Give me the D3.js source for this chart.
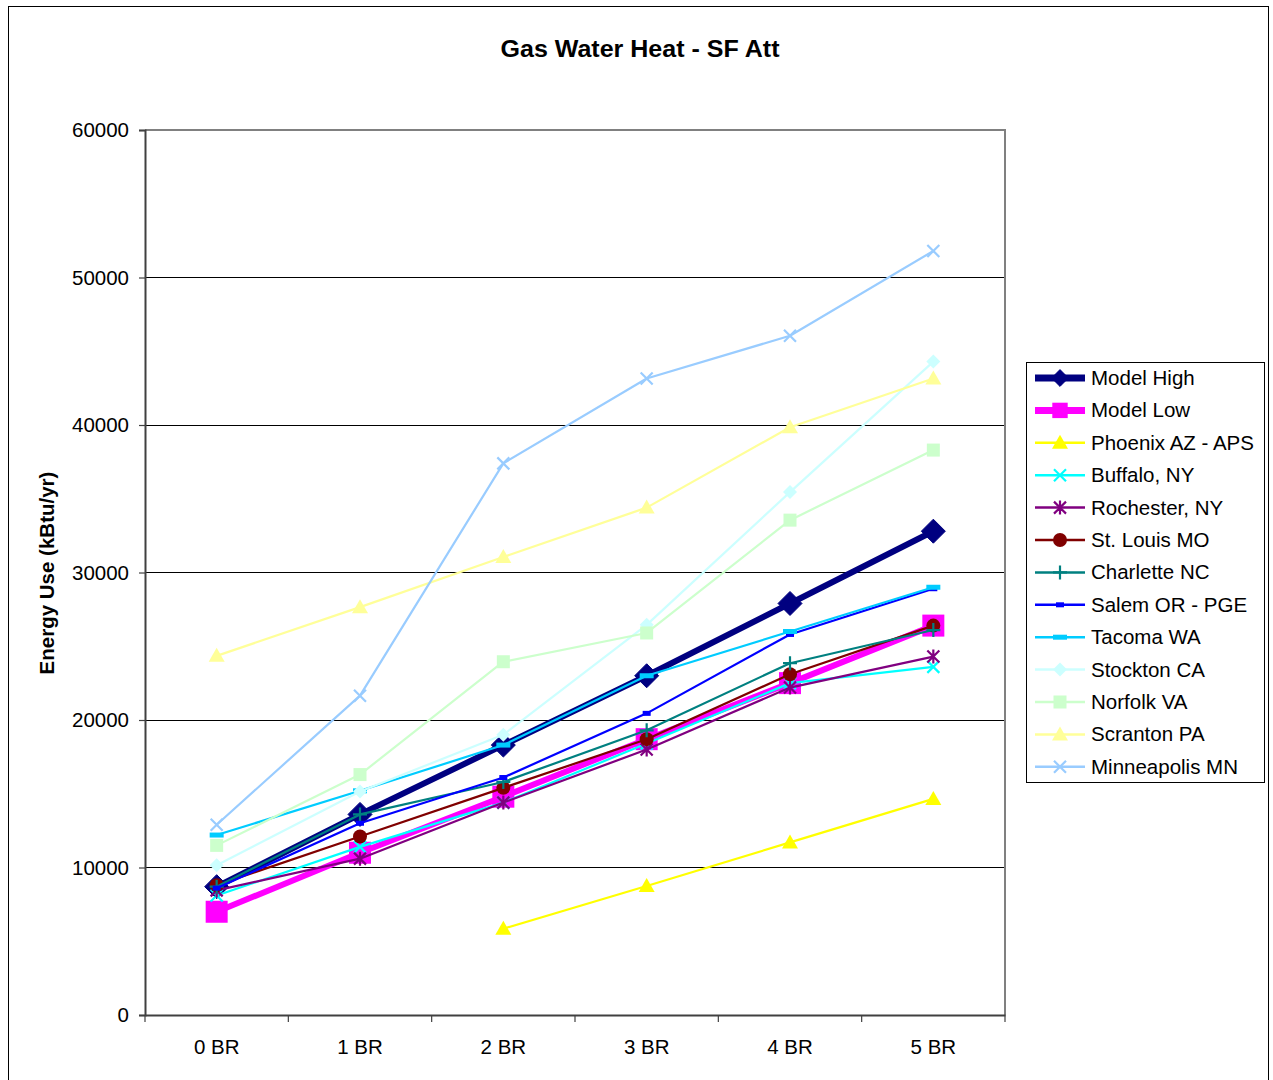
<!DOCTYPE html>
<html><head><meta charset="utf-8">
<script src="https://cdn.jsdelivr.net/npm/d3@7"></script>
<style>
body{margin:0;background:#fff;}
svg{display:block;font-family:Arial,"Liberation Sans",sans-serif;}
</style></head>
<body><svg id="c" width="1273" height="1080"></svg>
<script>
const categories = ["0 BR","1 BR","2 BR","3 BR","4 BR","5 BR"];
const yTicks = [0,10000,20000,30000,40000,50000,60000];
const seriesNames = ["Model High","Model Low","Phoenix AZ - APS","Buffalo, NY","Rochester, NY","St. Louis MO","Charlette NC","Salem OR - PGE","Tacoma WA","Stockton CA","Norfolk VA","Scranton PA","Minneapolis MN"];
const modelHigh   = [8700, 13600, 18300, 23000, 27900, 32800];
const modelLow    = [7000, 11000, 14800, 18700, 22500, 26400];
const phoenix     = [null, null, 5850, 8750, 11700, 14650];
const buffalo     = [8100, 11400, 14400, 18400, 22500, 23600];
const rochester   = [8450, 10600, 14400, 18000, 22200, 24300];
const stLouis     = [8800, 12100, 15400, 18700, 23100, 26400];
const charlette   = [8700, 13600, 15800, 19300, 23850, 26100];
const salem       = [8600, 13000, 16100, 20450, 25800, 28900];
const tacoma      = [12200, 15200, 18300, 23000, 26000, 29000];
const stockton    = [10150, 15150, 19000, 26450, 35450, 44300];
const norfolk     = [11500, 16300, 23950, 25900, 33550, 38300];
const scranton    = [24350, 27650, 31050, 34400, 39850, 43150];
const minneapolis = [12900, 21650, 37400, 43150, 46050, 51800];

const seriesValues = [modelHigh, modelLow, phoenix, buffalo, rochester, stLouis, charlette, salem, tacoma, stockton, norfolk, scranton, minneapolis];
const colors = ["#000080","#FF00FF","#FFFF00","#00FFFF","#800080","#800000","#008080","#0000FF","#00CCFF","#CCFFFF","#CCFFCC","#FFFF99","#99CCFF"];
const widths = [6,6,2.2,2.2,2.2,2.2,2.2,2.2,2.2,2.2,2.2,2.2,2.2];
const markers = ["diamondBig","squareBig","triangle","x","asterisk","circle","plus","dashSmall","dash","diamond","square","triangle","x"];

const svg = d3.select("#c");
const L=145, R=1005, T=130, B=1015;

svg.append("rect").attr("x",8.5).attr("y",6.5).attr("width",1260).attr("height",1090)
  .attr("fill","#fff").attr("stroke","#000").attr("stroke-width",1);

const x = d3.scaleBand().domain(categories).range([L,R]).padding(0);
const y = d3.scaleLinear().domain([0,60000]).range([B,T]);
const cx = c => x(c) + x.bandwidth()/2;

svg.append("g").selectAll("line").data(yTicks.filter(v=>v>0 && v<60000)).join("line")
  .attr("x1",L).attr("x2",R).attr("y1",d=>y(d)).attr("y2",d=>y(d))
  .attr("stroke","#000").attr("stroke-width",1).attr("shape-rendering","crispEdges");
svg.append("path").attr("d",`M${L},${y(60000)}H${R}V${B}`).attr("fill","none")
  .attr("stroke","#808080").attr("stroke-width",2).attr("shape-rendering","crispEdges");

const yAxis = d3.axisLeft(y).tickValues(yTicks).tickSize(6).tickPadding(10).tickFormat(d3.format("d"));
const gy = svg.append("g").attr("transform",`translate(${L},0)`).call(yAxis);
gy.select(".domain").attr("stroke","#404040").attr("stroke-width",2);
gy.selectAll(".tick line").attr("stroke","#404040").attr("stroke-width",1.2);
gy.selectAll("text").attr("font-size",20.5).attr("fill","#000").attr("font-family","Arial, 'Liberation Sans', sans-serif");

const xAxis = d3.axisBottom(x).tickSize(0).tickPadding(24);
const gx = svg.append("g").attr("transform",`translate(0,${B})`).call(xAxis);
gx.select(".domain").attr("stroke","#404040").attr("stroke-width",2);
gx.selectAll("text").attr("font-size",20.5).attr("fill","#000").attr("font-family","Arial, 'Liberation Sans', sans-serif");
const bounds = categories.map(c=>x(c)).concat([R]);
svg.append("g").selectAll("line").data(bounds).join("line")
  .attr("x1",d=>d).attr("x2",d=>d).attr("y1",B).attr("y2",B+7)
  .attr("stroke","#404040").attr("stroke-width",1.2);

svg.append("text").attr("x",640).attr("y",57).attr("text-anchor","middle")
  .attr("font-size",23).attr("font-weight","bold").attr("textLength",279).attr("lengthAdjust","spacingAndGlyphs")
  .text("Gas Water Heat - SF Att");
svg.append("text").attr("transform","translate(54,573) rotate(-90)").attr("text-anchor","middle")
  .attr("font-size",20.5).attr("font-weight","bold")
  .text("Energy Use (kBtu/yr)");

function drawMarker(g, type, color, px, py, scale){
  const s = scale||1;
  if(type==="diamondBig"){
    const r=12*s;
    g.append("path").attr("d",`M${px},${py-r}L${px+r},${py}L${px},${py+r}L${px-r},${py}Z`).attr("fill",color).attr("stroke",color);
  } else if(type==="squareBig"){
    const h=11*s;
    g.append("rect").attr("x",px-h).attr("y",py-h).attr("width",2*h).attr("height",2*h).attr("fill",color);
  } else if(type==="diamond"){
    const r=7*s;
    g.append("path").attr("d",`M${px},${py-r}L${px+r},${py}L${px},${py+r}L${px-r},${py}Z`).attr("fill",color);
  } else if(type==="square"){
    const h=6.5*s;
    g.append("rect").attr("x",px-h).attr("y",py-h).attr("width",2*h).attr("height",2*h).attr("fill",color);
  } else if(type==="triangle"){
    const r=8*s;
    g.append("path").attr("d",`M${px},${py-r}L${px+r},${py+r*0.75}L${px-r},${py+r*0.75}Z`).attr("fill",color);
  } else if(type==="circle"){
    g.append("circle").attr("cx",px).attr("cy",py).attr("r",7*s).attr("fill",color);
  } else if(type==="x"){
    const r=6*s;
    g.append("path").attr("d",`M${px-r},${py-r}L${px+r},${py+r}M${px-r},${py+r}L${px+r},${py-r}`).attr("stroke",color).attr("stroke-width",2.2);
  } else if(type==="asterisk"){
    const r=6*s;
    g.append("path").attr("d",`M${px-r},${py-r}L${px+r},${py+r}M${px-r},${py+r}L${px+r},${py-r}M${px},${py-r-1}L${px},${py+r+1}`).attr("stroke",color).attr("stroke-width",2.2);
  } else if(type==="plus"){
    const r=7*s;
    g.append("path").attr("d",`M${px-r},${py}L${px+r},${py}M${px},${py-r}L${px},${py+r}`).attr("stroke",color).attr("stroke-width",2.2);
  } else if(type==="dashSmall"){
    g.append("rect").attr("x",px-4).attr("y",py-2.5).attr("width",8).attr("height",5).attr("fill",color);
  } else if(type==="dash"){
    g.append("rect").attr("x",px-7).attr("y",py-2.5).attr("width",14).attr("height",5).attr("fill",color);
  }
}

const line = d3.line().defined(d=>d.v!=null).x(d=>cx(d.c)).y(d=>y(d.v));
seriesValues.forEach((vals,i)=>{
  const g = svg.append("g");
  const pts = vals.map((v,j)=>({c:categories[j],v}));
  g.append("path").datum(pts).attr("d",line).attr("fill","none")
    .attr("stroke",colors[i]).attr("stroke-width",widths[i]).attr("stroke-linejoin","round");
  pts.filter(p=>p.v!=null).forEach(p=>drawMarker(g, markers[i], colors[i], cx(p.c), y(p.v)));
});

const lg = svg.append("g");
lg.append("rect").attr("x",1026.5).attr("y",362.5).attr("width",238).attr("height",420)
  .attr("fill","#fff").attr("stroke","#000").attr("stroke-width",1);
seriesNames.forEach((n,i)=>{
  const ly = 378 + i*32.4;
  lg.append("line").attr("x1",1035).attr("x2",1085).attr("y1",ly).attr("y2",ly)
    .attr("stroke",colors[i]).attr("stroke-width",i<2?7:2.5);
  drawMarker(lg, markers[i], colors[i], 1060, ly, i<2?0.7:1);
  lg.append("text").attr("x",1091).attr("y",ly+7).attr("font-size",20.5).text(n);
});
</script></body></html>
